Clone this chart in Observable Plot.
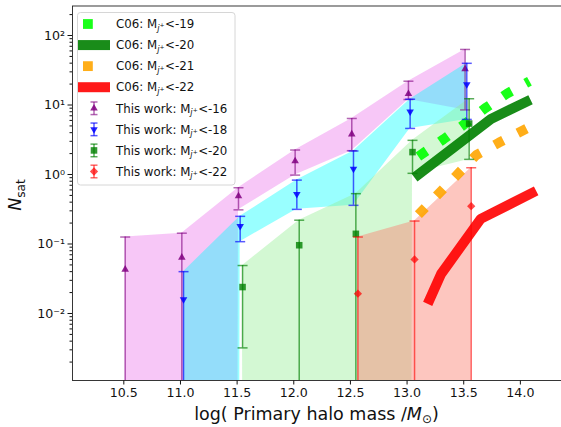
<!DOCTYPE html>
<html><head><meta charset="utf-8">
<script src="https://cdn.jsdelivr.net/npm/d3@7"></script>
<script src="https://cdn.jsdelivr.net/npm/@observablehq/plot@0.6"></script>
<style>
html,body{margin:0;padding:0;background:#fff;}
#chart{position:relative;width:561px;height:427px;overflow:hidden;}
</style></head>
<body><div id="chart"></div>
<script>
// ---- data ----
const massBins = [10.5, 11.0, 11.5, 12.0, 12.5, 13.0, 13.5];

// This work, M_j+ < -16  (bins 10.5 .. 13.5); lower 0 = below the axis
const n16   = [0.043, 0.064, 0.49, 1.56, 3.8, 14.5, 33];
const n16Lo = [0, 0, 0.31, 0.98, 2.2, 12, 8.5];
const n16Hi = [0.126, 0.143, 0.645, 2.25, 6.4, 22, 63];

// This work, M_j+ < -18  (bins 11.0 .. 13.5)
const n18   = [0.016, 0.18, 0.52, 1.2, 8.0, 19.8];
const n18Lo = [0, 0.108, 0.315, 0.36, 4.6, 6.2];
const n18Hi = [0.040, 0.25, 0.83, 2.18, 12.1, 39.8];

// This work, M_j+ < -20  (bins 11.5 .. 13.5)
const n20   = [0.024, 0.096, 0.14, 2.1, 5.4];
const n20Lo = [0.0032, 0, 0, 1.04, 1.65];
const n20Hi = [0.049, 0.22, 0.53, 3.1, 12.3];

// This work, M_j+ < -22  (bins 12.5 .. 13.5)
const n22   = [0.0193, 0.06, 0.35];
const n22Lo = [0, 0, 0];
const n22Hi = [0.126, 0.214, 1.25];

// C06 curves
const c06x19 = [13.1, 13.32, 13.5, 13.69, 13.88, 14.08];
const c06y19 = [1.82, 3.2, 5.2, 9.0, 14.5, 22];
const c06x20 = [13.1, 13.74, 14.05];
const c06y20 = [1.0, 6.3, 11.1];
const c06x21 = [13.1, 13.61, 13.81, 14.1];
const c06y21 = [0.265, 1.9, 2.87, 5.0];
const c06x22 = [13.2, 13.3, 13.65, 14.1];
const c06y22 = [0.016, 0.037, 0.23, 0.54];

// axes
const xTicks = [10.5, 11.0, 11.5, 12.0, 12.5, 13.0, 13.5, 14.0];
const xTickLabels = ["10.5", "11.0", "11.5", "12.0", "12.5", "13.0", "13.5", "14.0"];
const yTicks = [0.01, 0.1, 1, 10, 100];
const yTickLabels = ["10\u207B\u00B2", "10\u207B\u00B9", "10\u2070", "10\u00B9", "10\u00B2"];
const xDomain = [10.047, 14.363];
const yDomain = [0.001086, 265.8];

// legend
const legendPrefix = ["C06: ", "C06: ", "C06: ", "C06: ", "This work: ", "This work: ", "This work: ", "This work: "];
const legendLimit = ["<-19", "<-20", "<-21", "<-22", "<-16", "<-18", "<-20", "<-22"];

// ---- build ----
const FLOOR = 1e-300;
function rows(start, offset, vals, lo, hi) {
  return vals.map((v, i) => ({
    x: massBins[start + i] + offset, n: v,
    lo: lo[i] > 0 ? lo[i] : FLOOR, hi: hi[i], hasLo: lo[i] > 0
  }));
}
const r16 = rows(0, 0.012, n16, n16Lo, n16Hi);
const r18 = rows(1, 0.027, n18, n18Lo, n18Hi);
const r20 = rows(2, 0.048, n20, n20Lo, n20Hi);
const r22 = rows(4, 0.066, n22, n22Lo, n22Hi);
const line = (xs, ys) => xs.map((x, i) => ({x, y: ys[i]}));
const L19 = line(c06x19, c06y19), L20 = line(c06x20, c06y20), L21 = line(c06x21, c06y21), L22 = line(c06x22, c06y22);

const capSymbol = {draw(ctx) { ctx.moveTo(-5, 0); ctx.lineTo(5, 0); }};

const series = [
  {r: r16, band: "violet", bandOp: 0.45, col: "purple", barOp: 0.6, sym: "triangle", rot: 0, rad: 2.8, mOp: 0.85},
  {r: r18, band: "aqua", bandOp: 0.4, col: "blue", barOp: 0.65, sym: "triangle", rot: 180, rad: 2.8, mOp: 0.85},
  {r: r20, band: "lightgreen", bandOp: 0.4, col: "green", barOp: 0.65, sym: "square", rot: 0, rad: 3.7, mOp: 0.8},
  {r: r22, band: "salmon", bandOp: 0.45, col: "red", barOp: 0.6, sym: "square", rot: 45, rad: 3.3, mOp: 0.7}
];

const marks = [];
for (const s of series) {
  marks.push(Plot.areaY(s.r, {x: "x", y1: "lo", y2: "hi", fill: s.band, fillOpacity: s.bandOp, clip: true}));
}
marks.push(
  Plot.line(L19, {x: "x", y: "y", stroke: "lime", strokeOpacity: 0.9, strokeWidth: 9.8, strokeDasharray: "9.8,16.2", strokeLinecap: "butt", clip: true}),
  Plot.line(L20, {x: "x", y: "y", stroke: "green", strokeOpacity: 0.9, strokeWidth: 10, strokeLinecap: "square", strokeLinejoin: "round", clip: true}),
  Plot.line(L21, {x: "x", y: "y", stroke: "orange", strokeOpacity: 0.9, strokeWidth: 9.8, strokeDasharray: "9.8,16.2", strokeLinecap: "butt", clip: true}),
  Plot.line(L22, {x: "x", y: "y", stroke: "red", strokeOpacity: 0.9, strokeWidth: 10, strokeLinecap: "square", strokeLinejoin: "round", clip: true})
);
for (const s of series) {
  marks.push(
    Plot.ruleX(s.r, {x: "x", y1: "lo", y2: "hi", stroke: s.col, strokeOpacity: s.barOp, strokeWidth: 1.5, clip: true}),
    Plot.dot(s.r, {x: "x", y: "hi", symbol: capSymbol, fill: "none", stroke: s.col, strokeOpacity: s.barOp, strokeWidth: 1.5}),
    Plot.dot(s.r.filter(d => d.hasLo), {x: "x", y: "lo", symbol: capSymbol, fill: "none", stroke: s.col, strokeOpacity: s.barOp, strokeWidth: 1.5}),
    Plot.dot(s.r, {x: "x", y: "n", symbol: s.sym, rotate: s.rot, r: s.rad, fill: s.col, fillOpacity: s.mOp, stroke: "none"})
  );
}
const minorTicks = [];
for (let e = -3; e <= 2; e++) for (let m = 2; m <= 9; m++) {
  const v = m * Math.pow(10, e);
  if (v > yDomain[0] && v < yDomain[1]) minorTicks.push(v);
}
marks.push(
  Plot.axisY({ticks: minorTicks, tickSize: 2.5, tickFormat: () => "", label: null}),
  Plot.axisY({ticks: yTicks, tickSize: 4.5, tickPadding: 3, tickFormat: d => yTickLabels[yTicks.indexOf(d)], label: null, fontSize: 12.6}),
  Plot.axisX({ticks: xTicks, tickSize: 4.5, tickPadding: 3, tickFormat: d => xTickLabels[xTicks.indexOf(d)], label: null, fontSize: 12.6}),
  Plot.frame({stroke: "#222", strokeWidth: 0.9})
);

const svg = Plot.plot({
  width: 561, height: 427,
  marginLeft: 72, marginRight: 0, marginTop: 5.5, marginBottom: 47,
  x: {domain: xDomain},
  y: {type: "log", domain: yDomain},
  style: {fontFamily: "DejaVu Sans", fontSize: "12.6px", color: "#111", background: "#fff"},
  marks
});

// axis titles
const g = d3.select(svg);
const xl = g.append("text").attr("x", 316.5).attr("y", 420).attr("text-anchor", "middle")
  .attr("font-size", "17.5px").attr("fill", "#111");
xl.append("tspan").text("log( Primary halo mass /");
xl.append("tspan").attr("font-style", "italic").text("M");
xl.append("tspan").attr("font-size", "12px").attr("dy", 3).text("\u2299");
xl.append("tspan").attr("dy", -3).text(")");

const yl = g.append("text").attr("transform", "translate(21,195) rotate(-90)").attr("text-anchor", "middle")
  .attr("font-size", "17.5px").attr("fill", "#111");
yl.append("tspan").attr("font-style", "italic").text("N");
yl.append("tspan").attr("font-size", "12.2px").attr("dy", 3.5).text("sat");

// legend
const lg = g.append("g").attr("text-anchor", "start");
lg.append("rect").attr("x", 77.5).attr("y", 12.5).attr("width", 157.5).attr("height", 172.5)
  .attr("rx", 3).attr("fill", "#fff").attr("fill-opacity", 0.8).attr("stroke", "#d6d6d6").attr("stroke-width", 1);
const handles = [
  {type: "dot", col: "lime"}, {type: "bar", col: "green"}, {type: "dot", col: "orange"}, {type: "bar", col: "red"},
  {type: "err", s: series[0]}, {type: "err", s: series[1]}, {type: "err", s: series[2]}, {type: "err", s: series[3]}
];
handles.forEach((h, i) => {
  const y = 24 + i * 21.07;
  if (h.type === "dot") {
    lg.append("rect").attr("x", 83).attr("y", y - 4.9).attr("width", 9.8).attr("height", 9.8).attr("fill", h.col).attr("fill-opacity", 0.9);
  } else if (h.type === "bar") {
    lg.append("rect").attr("x", 78).attr("y", y - 5).attr("width", 32).attr("height", 10).attr("fill", h.col).attr("fill-opacity", 0.9);
  } else {
    const s = h.s, cx = 94;
    lg.append("line").attr("x1", cx).attr("x2", cx).attr("y1", y - 6.3).attr("y2", y + 6.3).attr("stroke", s.col).attr("stroke-opacity", s.barOp).attr("stroke-width", 1.5);
    [y - 6.3, y + 6.3].forEach(yy => lg.append("line").attr("x1", cx - 3.5).attr("x2", cx + 3.5).attr("y1", yy).attr("y2", yy).attr("stroke", s.col).attr("stroke-opacity", s.barOp).attr("stroke-width", 1.5));
    const sym = s.sym === "triangle" ? d3.symbolTriangle : d3.symbolSquare;
    lg.append("path").attr("d", d3.symbol(sym, Math.PI * s.rad * s.rad)())
      .attr("transform", `translate(${cx},${y}) rotate(${s.rot})`).attr("fill", s.col).attr("fill-opacity", s.mOp);
  }
  const t = lg.append("text").attr("x", 116).attr("y", y).attr("dy", "0.36em").attr("text-anchor", "start")
    .attr("font-size", "11.8px").attr("fill", "#111");
  t.append("tspan").text(legendPrefix[i] + "M");
  t.append("tspan").attr("font-size", "8.3px").attr("font-style", "italic").attr("dy", 2.6).text("j");
  t.append("tspan").attr("font-size", "6px").attr("dy", -3.4).text("+");
  t.append("tspan").attr("dy", 0.8).attr("dx", 0.5).text(legendLimit[i]);
});

document.getElementById("chart").appendChild(svg);
</script>
</body></html>
